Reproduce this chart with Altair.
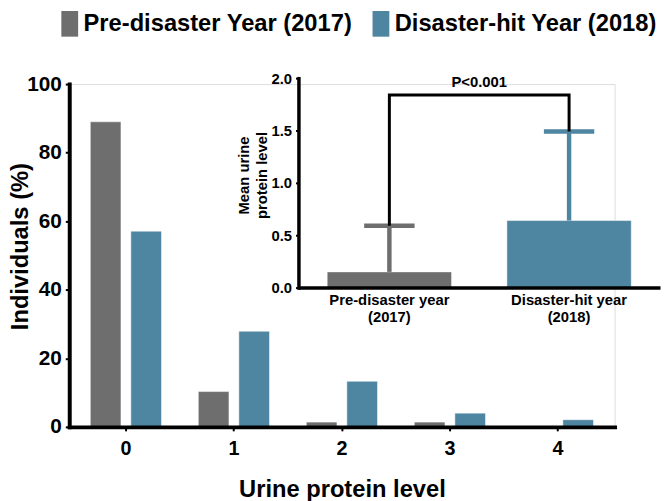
import altair as alt
import pandas as pd

# ---------------- data ----------------
levels = ["0", "1", "2", "3", "4"]
series_names = ["Pre-disaster Year (2017)", "Disaster-hit Year (2018)"]
pre_pct = [89.0, 10.3, 1.4, 1.4, 0.0]
post_pct = [57.1, 27.9, 13.3, 4.0, 2.1]

inset_cats = ["Pre-disaster year|(2017)", "Disaster-hit year|(2018)"]
inset_mean = [0.15, 0.64]
inset_sd_top = [0.59, 1.49]
bracket_top = 1.84
p_label = "P<0.001"
p_label_y = 1.96

colors = ["#6e6e6e", "#4e85a0"]
FONT = "Liberation Sans"

# ---------------- tables ----------------
main_df = pd.DataFrame(
    [{"level": l, "series": series_names[0], "value": v} for l, v in zip(levels, pre_pct)]
    + [{"level": l, "series": series_names[1], "value": v} for l, v in zip(levels, post_pct)]
)
inset_df = pd.DataFrame({"cat": inset_cats, "series": series_names,
                         "mean": inset_mean, "top": inset_sd_top})
bracket_df = pd.DataFrame({
    "cat": [inset_cats[0], inset_cats[0], inset_cats[1], inset_cats[1]],
    "y": [inset_sd_top[0], bracket_top, bracket_top, inset_sd_top[1]],
    "o": [0, 1, 2, 3],
})
ptext_df = pd.DataFrame({"cat": [inset_cats[0]], "y": [p_label_y], "label": [p_label]})

# ---------------- layout ----------------
W, H = 552, 347
inset_range = [232, 598]
inset_pad_inner, inset_pad_outer = 0.308, 0.16
inset_step = (inset_range[1] - inset_range[0]) / (2 - inset_pad_inner + 2 * inset_pad_outer)
color_scale = alt.Scale(domain=series_names, range=colors)

main_bars = alt.Chart(main_df).mark_bar(stroke="white", strokeWidth=1, strokeOpacity=0.5).encode(
    x=alt.X("level:N", sort=levels,
            scale=alt.Scale(paddingInner=0.341, paddingOuter=0.195),
            axis=alt.Axis(title="Urine protein level", labelAngle=0, zindex=1,
                          domainWidth=4, domainColor="black", domainCap="square",
                          tickSize=4, tickWidth=2, tickColor="black",
                          labelFont=FONT, labelFontSize=20, labelFontWeight="bold",
                          labelColor="black", labelPadding=8,
                          titleFont=FONT, titleFontSize=24, titleFontWeight="bold",
                          titleColor="black", titlePadding=19)),
    xOffset=alt.XOffset("series:N", sort=series_names,
                        scale=alt.Scale(paddingInner=0.244, paddingOuter=0)),
    y=alt.Y("value:Q", scale=alt.Scale(domain=[0, 100], nice=False),
            axis=alt.Axis(title="Individuals (%)", values=[0, 20, 40, 60, 80, 100],
                          grid=False, zindex=1,
                          domainWidth=4, domainColor="black", domainCap="square",
                          tickSize=4, tickWidth=2, tickColor="black",
                          labelFont=FONT, labelFontSize=21, labelFontWeight="bold",
                          labelColor="black", labelPadding=4,
                          titleFont=FONT, titleFontSize=24, titleFontWeight="bold",
                          titleColor="black", titleX=-37, titleY=164)),
    color=alt.Color("series:N", scale=color_scale, sort=series_names,
                    legend=alt.Legend(title=None, orient="none", legendX=-12.5, legendY=-74,
                                      direction="horizontal",
                                      symbolType="M-0.654,-1L0.654,-1L0.654,1L-0.654,1Z",
                                      symbolSize=676, symbolStrokeWidth=0, symbolOpacity=1,
                                      labelFont=FONT, labelFontSize=24, labelFontWeight="bold",
                                      labelColor="black", labelOffset=1, labelLimit=0,
                                      columnPadding=15, padding=0)),
)

ix_scale = alt.Scale(range=inset_range, paddingInner=inset_pad_inner, paddingOuter=inset_pad_outer)
iy_scale = alt.Scale(domain=[0, 2], range=[206, -6], nice=False)

inset_bars = alt.Chart(inset_df).mark_bar(stroke="white", strokeWidth=1, strokeOpacity=0.5).encode(
    x=alt.X("cat:N", sort=inset_cats, scale=ix_scale,
            axis=alt.Axis(title=None, orient="bottom", offset=-141, labelAngle=0, zindex=1,
                          labelExpr="split(datum.label, '|')", ticks=False,
                          domainWidth=3.5, domainColor="black",
                          labelFont=FONT, labelFontSize=15, labelFontWeight="bold",
                          labelColor="black", labelPadding=5, labelLineHeight=17)),
    y=alt.Y("mean:Q", scale=iy_scale,
            axis=alt.Axis(title=["Mean  urine", "protein level"], orient="left", offset=-232,
                          values=[0, 0.5, 1, 1.5, 2], format=".1f", grid=False, zindex=1,
                          domainWidth=3.5, domainColor="black", domainCap="square",
                          tickSize=3, tickWidth=2, tickColor="black",
                          labelFont=FONT, labelFontSize=15, labelFontWeight="bold",
                          labelColor="black", labelPadding=4,
                          titleFont=FONT, titleFontSize=15, titleFontWeight="bold",
                          titleColor="black", titlePadding=1, titleLineHeight=19, titleY=92)),
    color=alt.Color("series:N", scale=color_scale, sort=series_names),
)

err_rule = alt.Chart(inset_df).mark_rule(strokeWidth=4.5).encode(
    x=alt.X("cat:N", sort=inset_cats, scale=ix_scale),
    y=alt.Y("mean:Q", scale=iy_scale),
    y2="top:Q",
    color=alt.Color("series:N", scale=color_scale, sort=series_names),
)
err_cap = alt.Chart(inset_df).mark_tick(size=51, thickness=4.5, opacity=1).encode(
    x=alt.X("cat:N", sort=inset_cats, scale=ix_scale),
    y=alt.Y("top:Q", scale=iy_scale),
    color=alt.Color("series:N", scale=color_scale, sort=series_names),
)
bracket = alt.Chart(bracket_df).mark_line(color="black", strokeWidth=3, strokeJoin="miter").encode(
    x=alt.X("cat:N", sort=inset_cats, scale=ix_scale),
    y=alt.Y("y:Q", scale=iy_scale),
    order="o:Q",
)
ptext = alt.Chart(ptext_df).mark_text(font=FONT, fontSize=15, fontWeight="bold",
                                      color="black", baseline="middle", align="center",
                                      dx=inset_step * inset_pad_inner / 2).encode(
    x=alt.X("cat:N", sort=inset_cats, scale=ix_scale, bandPosition=1),
    y=alt.Y("y:Q", scale=iy_scale),
    text="label:N",
)

inset = alt.layer(inset_bars, err_rule, err_cap, bracket, ptext)

chart = alt.layer(main_bars, inset).resolve_scale(
    x="independent", y="independent"
).properties(
    width=W, height=H,
    autosize=alt.AutoSizeParams(type="none"),
    padding={"left": 62, "top": 74, "right": 47, "bottom": 72},
).configure_view(stroke=None).configure(background="white")

chart.save("out.html", embed_options={"renderer": "svg", "actions": False})
